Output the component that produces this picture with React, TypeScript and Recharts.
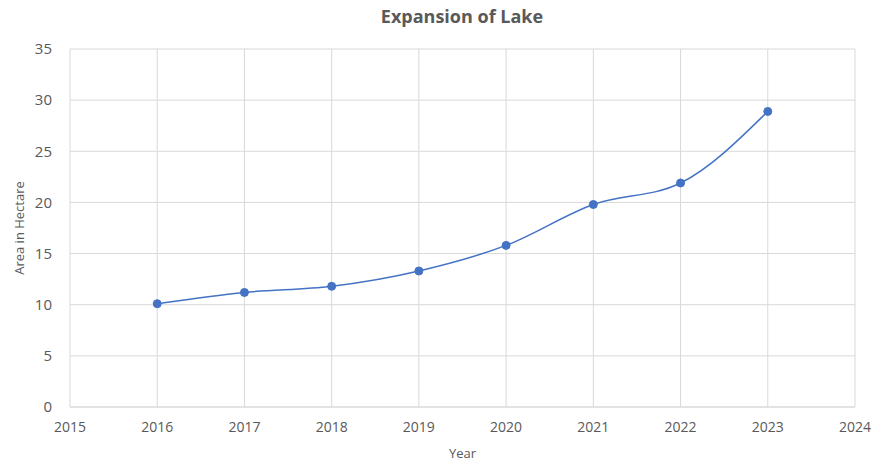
import React from 'react';
import { LineChart, Line, XAxis, YAxis, CartesianGrid, Label } from 'recharts';

const YEARS = [2016, 2017, 2018, 2019, 2020, 2021, 2022, 2023];
const AREA = [10.1, 11.2, 11.8, 13.3, 15.8, 19.8, 21.9, 28.9];
const X_TICKS = [2015, 2016, 2017, 2018, 2019, 2020, 2021, 2022, 2023, 2024];
const Y_TICKS = [0, 5, 10, 15, 20, 25, 30, 35];

const data = YEARS.map((year, i) => ({ year, area: AREA[i] }));

const FONT = '"Open Sans", "Liberation Sans", sans-serif';
const TEXT = '#595959';
const GRID = '#d9d9d9';
const BLUE = '#4472C4';

export default function App() {
  return (
    <div style={{ position: 'absolute', left: 0, top: 0, width: 878, height: 463, background: '#fff', fontFamily: FONT }}>
      <div
        style={{
          position: 'absolute',
          top: 4,
          left: 0,
          width: 924,
          textAlign: 'center',
          fontSize: 18,
          fontWeight: 700,
          color: TEXT,
        }}
      >
        Expansion of Lake
      </div>
      <LineChart width={878} height={463} data={data} margin={{ top: 49, right: 23, bottom: 0, left: 0 }}>
        <CartesianGrid stroke={GRID} strokeWidth={1} />
        <XAxis
          dataKey="year"
          type="number"
          domain={[2015, 2024]}
          ticks={X_TICKS}
          interval={0}
          height={56}
          tickSize={0}
          tickMargin={15}
          tickLine={false}
          axisLine={{ stroke: GRID }}
          tick={{ fill: TEXT, fontSize: 14, fontFamily: FONT }}
        >
          <Label value="Year" position="insideBottom" offset={5} style={{ fill: TEXT, fontSize: 13, fontFamily: FONT }} />
        </XAxis>
        <YAxis
          type="number"
          domain={[0, 35]}
          ticks={Y_TICKS}
          interval={0}
          width={70}
          tickSize={0}
          tickMargin={18}
          tickLine={false}
          axisLine={false}
          tick={{ fill: TEXT, fontSize: 15, fontFamily: FONT }}
        >
          <Label
            value="Area in Hectare"
            angle={-90}
            position="insideLeft"
            offset={19}
            style={{ textAnchor: 'middle', fill: TEXT, fontSize: 13, fontFamily: FONT }}
          />
        </YAxis>
        <Line
          type="monotone"
          dataKey="area"
          stroke={BLUE}
          strokeWidth={1.5}
          dot={{ r: 4, fill: BLUE, stroke: BLUE, strokeWidth: 1 }}
          activeDot={false}
          isAnimationActive={false}
        />
      </LineChart>
    </div>
  );
}
